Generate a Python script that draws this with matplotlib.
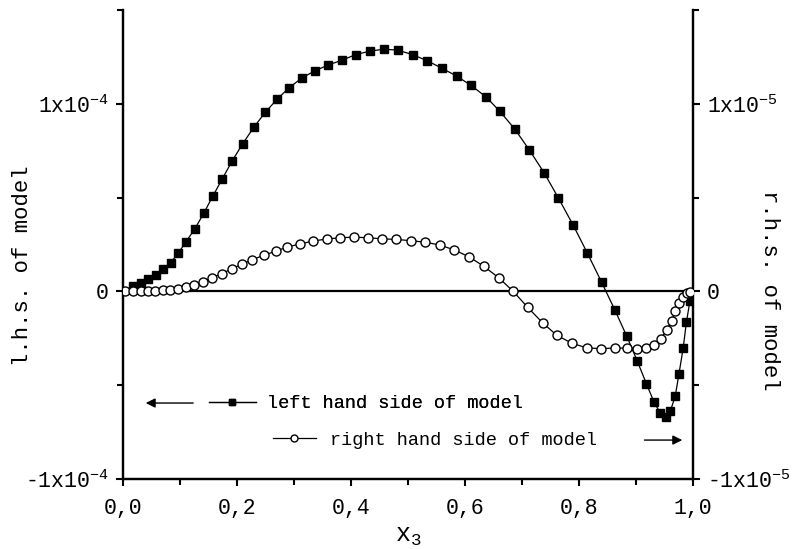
import matplotlib
matplotlib.use("Agg")
import matplotlib.pyplot as plt
from matplotlib.ticker import FixedLocator, FixedFormatter, MultipleLocator
from matplotlib.lines import Line2D

plt.rcParams["font.family"] = ["Liberation Mono", "DejaVu Sans Mono"]
plt.rcParams["mathtext.fontset"] = "custom"
plt.rcParams["mathtext.rm"] = "Liberation Mono"
plt.rcParams["mathtext.it"] = "Liberation Mono"

# lhs (left axis, units of 1e-4)
x_lhs = [0.0181, 0.0311, 0.0439, 0.0574, 0.0707, 0.0837, 0.0970, 0.1105, 0.1263, 0.1416,
         0.1574, 0.1737, 0.1918, 0.2100, 0.2293, 0.2495, 0.2702, 0.2916, 0.3135, 0.3361,
         0.3602, 0.3839, 0.4082, 0.4333, 0.4579, 0.4821, 0.5082, 0.5339, 0.5593, 0.5851,
         0.6102, 0.6368, 0.6614, 0.6877, 0.7128, 0.7389, 0.7640, 0.7898, 0.8147, 0.8395,
         0.8626, 0.8840, 0.9023, 0.9181, 0.9316, 0.9425, 0.9518, 0.9605, 0.9688, 0.9754,
         0.9828, 0.9884, 0.9947, 0.9982]
y_lhs = [0.028, 0.046, 0.064, 0.089, 0.117, 0.154, 0.204, 0.264, 0.335, 0.416,
         0.507, 0.597, 0.697, 0.787, 0.874, 0.954, 1.024, 1.086, 1.137, 1.175,
         1.207, 1.232, 1.262, 1.281, 1.291, 1.286, 1.262, 1.229, 1.190, 1.148,
         1.099, 1.037, 0.959, 0.864, 0.754, 0.632, 0.497, 0.353, 0.204, 0.050,
         -0.097, -0.240, -0.372, -0.491, -0.590, -0.648, -0.667, -0.635, -0.559, -0.439,
         -0.302, -0.164, -0.050, -0.011]

# rhs (right axis, units of 1e-5)
x_rhs = [0.0044, 0.0175, 0.0311, 0.0439, 0.0570, 0.0702, 0.0833, 0.0970, 0.1111, 0.1251,
         0.1407, 0.1567, 0.1732, 0.1904, 0.2088, 0.2268, 0.2474, 0.2684, 0.2886, 0.3111,
         0.3339, 0.3574, 0.3807, 0.4047, 0.4298, 0.4551, 0.4796, 0.5058, 0.5307, 0.5561,
         0.5812, 0.6074, 0.6328, 0.6591, 0.6847, 0.7100, 0.7360, 0.7614, 0.7882, 0.8135,
         0.8381, 0.8623, 0.8837, 0.9018, 0.9181, 0.9319, 0.9430, 0.9538, 0.9623, 0.9689,
         0.9754, 0.9821, 0.9886, 0.9953]
y_rhs = [0.002, 0.002, 0.002, 0.002, 0.003, 0.005, 0.006, 0.013, 0.023, 0.035,
         0.052, 0.074, 0.094, 0.120, 0.145, 0.169, 0.193, 0.215, 0.237, 0.253,
         0.269, 0.279, 0.286, 0.289, 0.286, 0.280, 0.277, 0.270, 0.262, 0.247,
         0.221, 0.184, 0.134, 0.073, 0.0, -0.085, -0.167, -0.235, -0.277, -0.301,
         -0.305, -0.302, -0.302, -0.305, -0.301, -0.284, -0.253, -0.207, -0.158, -0.105,
         -0.060, -0.028, -0.011, -0.004]

x_ticks = [0.0, 0.2, 0.4, 0.6, 0.8, 1.0]
x_labels = ["0,0", "0,2", "0,4", "0,6", "0,8", "1,0"]
yl_ticks = [-1e-4, 0, 1e-4]
yl_labels = [r"-1x10$^{-4}$", "0", r"1x10$^{-4}$"]
yr_ticks = [-1e-5, 0, 1e-5]
yr_labels = [r"-1x10$^{-5}$", "0", r"1x10$^{-5}$"]

fig = plt.figure(figsize=(7.95, 5.49), dpi=100)
ax = fig.add_axes([0.1547, 0.1275, 0.717, 0.8543])
ax2 = ax.twinx()

ax.plot(x_lhs, [v * 1e-4 for v in y_lhs], color="black", lw=0.9,
        marker="s", ms=6, mfc="black", mec="black", zorder=3)
ax2.plot(x_rhs, [v * 1e-5 for v in y_rhs], color="black", lw=0.9,
         marker="o", ms=6.5, mfc="white", mec="black", mew=1.0, zorder=3)
ax.axhline(0, color="black", lw=1.6, zorder=1)

ax.set_xlim(0, 1)
ax.set_ylim(-1e-4, 1.5e-4)
ax2.set_ylim(-1e-5, 1.5e-5)

for a in (ax, ax2):
    a.spines["top"].set_visible(False)
    for s in a.spines.values():
        s.set_linewidth(1.6)
    a.tick_params(which="major", direction="out", length=5, width=1.5, labelsize=15.5, pad=5)
    a.tick_params(which="minor", direction="out", length=4, width=1.5)

ax.xaxis.set_major_locator(FixedLocator(x_ticks))
ax.xaxis.set_major_formatter(FixedFormatter(x_labels))
ax.xaxis.set_minor_locator(MultipleLocator(0.1))
ax.yaxis.set_major_locator(FixedLocator(yl_ticks))
ax.yaxis.set_major_formatter(FixedFormatter(yl_labels))
ax.yaxis.set_minor_locator(MultipleLocator(0.5e-4))
ax2.yaxis.set_major_locator(FixedLocator(yr_ticks))
ax2.yaxis.set_major_formatter(FixedFormatter(yr_labels))
ax2.yaxis.set_minor_locator(MultipleLocator(0.5e-5))
ax.tick_params(axis="x", pad=9)

ax.set_xlabel(r"x$_3$", fontsize=18)
ax.xaxis.set_label_coords(0.5, -0.095)
ax.set_ylabel("l.h.s. of model", fontsize=16)
ax.yaxis.set_label_coords(-0.158, 0.454)
ax2.set_ylabel("r.h.s. of model", fontsize=16, rotation=-90, va="center")
ax2.yaxis.set_label_coords(1.135, 0.403)

# legend rows with arrows pointing to the matching axis
h1 = Line2D([], [], color="black", lw=0.9, marker="s", ms=5, mfc="black", mec="black")
h2 = Line2D([], [], color="black", lw=0.9, marker="o", ms=5, mfc="white", mec="black")
leg1 = ax.legend([h1], ["left hand side of model"], loc="center left",
                 bbox_to_anchor=(0.151, 0.160), frameon=False, borderpad=0,
                 borderaxespad=0, handlelength=2.5, handletextpad=0.6, fontsize=13.4)
ax.add_artist(leg1)
ax2.legend([h2], ["right hand side of model"], loc="center left",
           bbox_to_anchor=(0.263, 0.083), frameon=False, borderpad=0,
           borderaxespad=0, handlelength=2.3, handletextpad=0.75, fontsize=13.4)
ax.annotate("", xy=(0.035, 0.162), xytext=(0.128, 0.162), xycoords="axes fraction",
            arrowprops=dict(arrowstyle="-|>", color="black", lw=1.0, mutation_scale=14))
ax.annotate("", xy=(0.986, 0.083), xytext=(0.910, 0.083), xycoords="axes fraction",
            arrowprops=dict(arrowstyle="-|>", color="black", lw=1.0, mutation_scale=14))

fig.savefig("out.png", dpi=100)
